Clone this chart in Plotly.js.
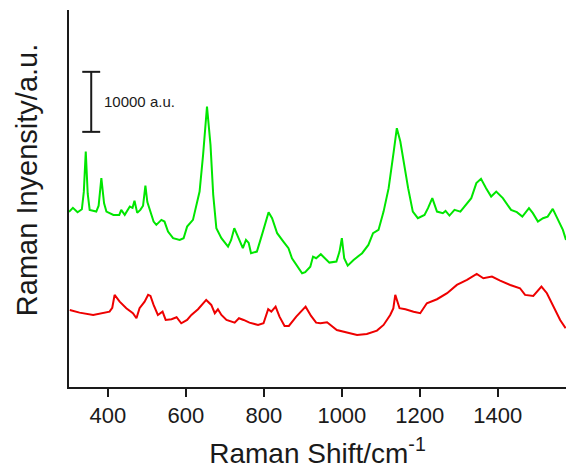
<!DOCTYPE html>
<html>
<head>
<meta charset="utf-8">
<script src="https://cdn.plot.ly/plotly-3.0.1.min.js"></script>
<style>
  html, body { margin: 0; padding: 0; background: #ffffff; }
  #chart { width: 566px; height: 469px; }
</style>
</head>
<body>
<div id="chart"></div>
<script>
// Raman shift (cm^-1) and intensity (a.u.) for the upper (green) spectrum
const greenShift = [300, 310, 322, 333, 338, 343, 348, 353, 370, 376, 383, 390, 396, 414, 429, 434, 443, 456, 463, 468,
  475, 483, 490, 496, 501, 507, 517, 524, 537, 545, 554, 567, 584, 594, 603, 618, 635, 644, 654, 663,
  670, 678, 691, 708, 716, 724, 735, 746, 754, 761, 767, 782, 795, 812, 821, 834, 850, 863, 872, 885,
  898, 906, 919, 926, 934, 946, 957, 968, 986, 994, 1000, 1006, 1015, 1030, 1052, 1068, 1080, 1094, 1107, 1120,
  1133, 1141, 1150, 1157, 1170, 1182, 1195, 1212, 1221, 1232, 1244, 1259, 1266, 1276, 1289, 1304, 1319, 1332, 1345, 1357,
  1370, 1383, 1396, 1413, 1434, 1449, 1463, 1480, 1490, 1503, 1516, 1528, 1541, 1554, 1567, 1575];
const greenIntensity = [29170, 29840, 29100, 29600, 32500, 39225, 32200, 29500, 29220, 30200, 34790, 30600, 29220, 28670, 28670, 29500, 28670, 30060, 29840, 31010,
  29010, 29500, 30200, 33560, 30800, 29500, 27560, 27010, 27840, 27560, 25890, 24790, 24500, 24790, 26720, 27840, 32560, 38670, 46730, 40340,
  32010, 26460, 24790, 23390, 24500, 26460, 24790, 23120, 24500, 24000, 22290, 22560, 25340, 29120, 28120, 25620, 24220, 23120, 21450, 20220,
  18950, 19120, 20050, 21720, 21450, 22120, 21450, 20720, 20890, 22560, 24790, 21450, 20220, 21170, 22290, 23670, 25620, 26170, 29220, 33120,
  39225, 43120, 40890, 38120, 33120, 29220, 28120, 28670, 29790, 31460, 29220, 28960, 29340, 28560, 29500, 29220, 30340, 31460, 33960, 34670,
  33120, 31720, 32560, 31460, 29500, 29120, 28390, 29790, 28960, 27560, 28120, 28390, 29670, 27840, 26170, 24500];

// Raman shift (cm^-1) and intensity (a.u.) for the lower (red) spectrum
const redShift = [302, 327, 362, 387, 404, 411, 417, 430, 447, 464, 473, 481, 494, 503, 509, 517, 528, 540, 548, 563,
  576, 588, 603, 614, 631, 652, 665, 674, 682, 691, 704, 725, 736, 748, 763, 785, 799, 811, 819, 830,
  840, 853, 864, 883, 907, 921, 934, 945, 962, 987, 1013, 1039, 1064, 1090, 1107, 1124, 1132, 1137, 1148, 1163,
  1184, 1201, 1218, 1244, 1270, 1295, 1321, 1346, 1363, 1385, 1406, 1432, 1457, 1470, 1491, 1512, 1526, 1543, 1560, 1574];
const redIntensity = [12840, 12390, 12000, 12290, 12550, 13200, 15340, 14220, 13120, 12290, 11450, 13120, 14220, 15340, 15170, 13670, 12000, 12550, 11170, 11290,
  11620, 10620, 11170, 12000, 12950, 14500, 13670, 12290, 12950, 12000, 11170, 10720, 11450, 11170, 10720, 10340, 10620, 12950, 12550, 13390,
  11720, 10170, 10170, 11720, 13390, 11840, 10720, 10620, 10790, 9500, 9050, 8670, 8840, 9390, 10340, 12000, 13100, 15340, 13120, 12950,
  12550, 12290, 13950, 14620, 15620, 17000, 17840, 18840, 18120, 18390, 17720, 17000, 16450, 15340, 15170, 16720, 15620, 13390, 11170, 9790];

// X-axis tick labels
const tickValues = [400, 600, 800, 1000, 1200, 1400];
const tickLabels = ['400', '600', '800', '1000', '1200', '1400'];

// Intensity scale bar: 10000 a.u.
const scaleBarShift = 357;
const scaleBarLow = 42500;
const scaleBarHigh = 52500;
const scaleBarCapHalf = 23;
const scaleBarLabel = '10000 a.u.';

const FONT = '"Liberation Sans", Arial, sans-serif';
const INK = '#1a1a1a';

const traces = [
  {
    x: greenShift, y: greenIntensity, type: 'scatter', mode: 'lines',
    line: { color: '#00e600', width: 2 }, hoverinfo: 'skip'
  },
  {
    x: redShift, y: redIntensity, type: 'scatter', mode: 'lines',
    line: { color: '#ee0000', width: 2 }, hoverinfo: 'skip'
  }
];

const barStyle = { color: INK, width: 2 };
const layout = {
  width: 566, height: 469,
  margin: { l: 69, r: 0, t: 10, b: 82 },
  paper_bgcolor: '#ffffff', plot_bgcolor: '#ffffff',
  showlegend: false,
  font: { family: FONT, color: INK },
  xaxis: {
    range: [300, 1575],
    tickmode: 'array', tickvals: tickValues, ticktext: tickLabels,
    ticks: 'outside', ticklen: 8, tickwidth: 2, tickcolor: INK,
    showline: true, linecolor: INK, linewidth: 2,
    showgrid: false, zeroline: false,
    tickfont: { family: FONT, size: 22, color: INK },
    title: { text: 'Raman Shift/cm<sup>-1</sup>', font: { family: FONT, size: 28, color: INK }, standoff: 21 }
  },
  yaxis: {
    range: [0, 62800],
    showticklabels: false, ticks: '',
    showline: true, linecolor: INK, linewidth: 2,
    showgrid: false, zeroline: false
  },
  shapes: [
    { type: 'line', xref: 'x', yref: 'y', x0: scaleBarShift, x1: scaleBarShift, y0: scaleBarLow, y1: scaleBarHigh, line: barStyle },
    { type: 'line', xref: 'x', yref: 'y', x0: scaleBarShift - scaleBarCapHalf, x1: scaleBarShift + scaleBarCapHalf, y0: scaleBarLow, y1: scaleBarLow, line: barStyle },
    { type: 'line', xref: 'x', yref: 'y', x0: scaleBarShift - scaleBarCapHalf, x1: scaleBarShift + scaleBarCapHalf, y0: scaleBarHigh, y1: scaleBarHigh, line: barStyle }
  ],
  annotations: [
    {
      xref: 'x', yref: 'y', x: scaleBarShift + 27, y: (scaleBarLow + scaleBarHigh) / 2,
      text: scaleBarLabel, showarrow: false, xanchor: 'left', yanchor: 'middle',
      font: { family: FONT, size: 15, color: INK }
    },
    {
      // vertical axis title, set a little above the plot centre
      xref: 'paper', yref: 'paper', x: -0.083, y: 0.548,
      text: 'Raman Inyensity/a.u.', textangle: -90, showarrow: false,
      xanchor: 'center', yanchor: 'middle',
      font: { family: FONT, size: 29, color: INK }
    }
  ]
};

Plotly.newPlot('chart', traces, layout, { staticPlot: true, displayModeBar: false });
</script>
</body>
</html>
